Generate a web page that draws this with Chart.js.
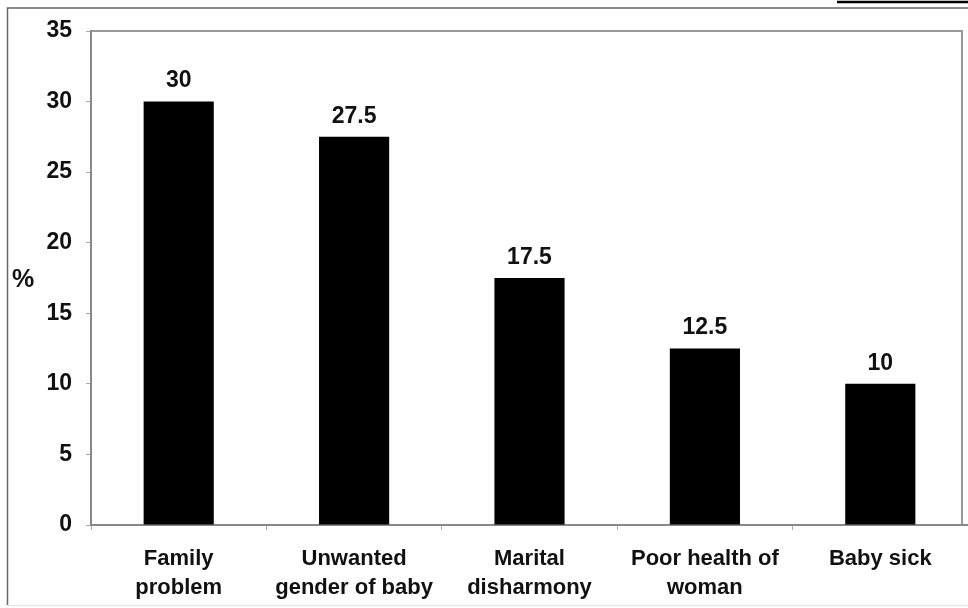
<!DOCTYPE html>
<html>
<head>
<meta charset="utf-8">
<title>bar chart</title>
<script src="https://cdn.jsdelivr.net/npm/chart.js@4.4.1/dist/chart.umd.min.js"></script>
<style>
	html, body { margin: 0; padding: 0; background: #fff; }
	#wrap { width: 968px; height: 608px; position: relative; }
</style>
</head>
<body>
<div id="wrap"><canvas id="canvas"></canvas></div>
<script>
	var categories = [["Family", "problem"], ["Unwanted", "gender of baby"], ["Marital", "disharmony"], ["Poor health of", "woman"], ["Baby sick"]];
	var percents = [30, 27.5, 17.5, 12.5, 10];
	var yTicks = [0, 5, 10, 15, 20, 25, 30, 35];
	var yTitle = "%";

	var boldFont = "'Liberation Sans', Arial, sans-serif";

	// frame, plot box, "%" label and the values over the bars
	var extras = {
		id: 'extras',
		beforeDraw: function (chart) {
			var ctx = chart.ctx, a = chart.chartArea;
			ctx.save();
			ctx.fillStyle = '#fff';
			ctx.fillRect(0, 0, chart.width, chart.height);
			ctx.strokeStyle = '#666';
			ctx.lineWidth = 1.5;
			ctx.beginPath();
			ctx.moveTo(7.5, 605);
			ctx.lineTo(7.5, 8);
			ctx.lineTo(968, 8);
			ctx.stroke();
			ctx.strokeStyle = '#000';
			ctx.lineWidth = 2.5;
			ctx.beginPath();
			ctx.moveTo(837, 2);
			ctx.lineTo(968, 2);
			ctx.stroke();
			ctx.strokeStyle = '#e2e2e2';
			ctx.lineWidth = 1;
			ctx.beginPath();
			ctx.moveTo(8, 605.5);
			ctx.lineTo(968, 605.5);
			ctx.stroke();
			ctx.strokeStyle = '#999';
			ctx.lineWidth = 2;
			ctx.beginPath();
			ctx.moveTo(a.left, a.top);
			ctx.lineTo(962, a.top);
			ctx.lineTo(962, a.bottom);
			ctx.stroke();
			ctx.restore();
		},
		afterDatasetsDraw: function (chart) {
			var ctx = chart.ctx;
			ctx.save();
			ctx.fillStyle = '#111';
			ctx.font = 'bold 23px ' + boldFont;
			ctx.textAlign = 'center';
			ctx.textBaseline = 'bottom';
			chart.getDatasetMeta(0).data.forEach(function (bar, i) {
				ctx.fillText(String(percents[i]), bar.x, bar.y - 9);
			});
			ctx.textAlign = 'left';
			ctx.textBaseline = 'middle';
			ctx.font = 'bold 25px ' + boldFont;
			ctx.fillText(yTitle, 12, 280);
			ctx.restore();
		}
	};

	var char1 = document.getElementById('canvas');
	var barChart = new Chart(char1, {
		type: 'bar',
		data: {
			labels: categories,
			datasets: [{
				data: percents,
				backgroundColor: '#000',
				borderWidth: 0,
				categoryPercentage: 1,
				barPercentage: 0.4
			}]
		},
		options: {
			responsive: true,
			maintainAspectRatio: false,
			animation: false,
			layout: { padding: { top: 31, right: 0, bottom: 0, left: 0 } },
			plugins: {
				legend: { display: false },
				tooltip: { enabled: false }
			},
			scales: {
				x: {
					border: { color: '#888', width: 2 },
					grid: { display: true, offset: true, drawOnChartArea: false, color: '#aaa', tickLength: 5 },
					ticks: {
						color: '#111',
						font: { family: boldFont, size: 22, weight: 'bold', lineHeight: 1.32 },
						padding: 14,
						maxRotation: 0,
						autoSkip: false
					},
					afterFit: function (scale) { scale.height = 83; }
				},
				y: {
					min: 0,
					max: 35,
					afterBuildTicks: function (scale) {
						scale.ticks = yTicks.map(function (v) { return { value: v }; });
					},
					border: { color: '#888', width: 2 },
					grid: { display: true, drawOnChartArea: false, color: '#aaa', tickLength: 5 },
					ticks: {
						color: '#111',
						font: { family: boldFont, size: 23, weight: 'bold' },
						padding: 14
					},
					afterFit: function (scale) { scale.width = 91; }
				}
			}
		},
		plugins: [extras]
	});
</script>
</body>
</html>
